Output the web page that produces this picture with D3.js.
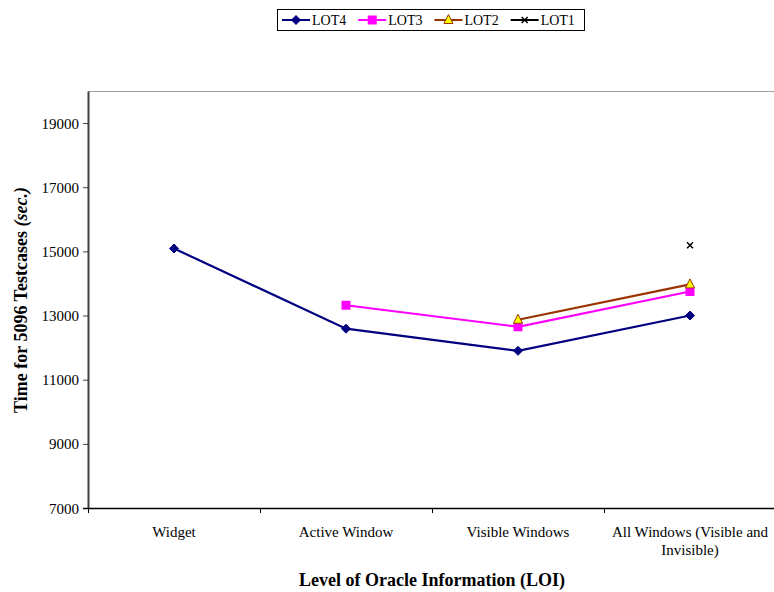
<!DOCTYPE html>
<html>
<head>
<meta charset="utf-8">
<script src="https://cdn.jsdelivr.net/npm/d3@7"></script>
<style>
  html, body { margin: 0; padding: 0; background: #fff; }
  svg { display: block; }
  text { font-family: "Liberation Serif", "Times New Roman", serif; fill: #000; }
</style>
</head>
<body>
<svg id="chart" width="774" height="592"></svg>
<script>
// Levels of oracle information along the x axis
const categories = ["Widget", "Active Window", "Visible Windows", "All Windows (Visible and Invisible)"];
const categoryLines = [["Widget"], ["Active Window"], ["Visible Windows"], ["All Windows (Visible and", "Invisible)"]];

// Time (sec.) per series; null where a series has no measurement
const lot4 = [15090, 12590, 11900, 13000];
const lot3 = [null, 13320, 12650, 13750];
const lot2 = [null, null, 12870, 13970];
const lot1 = [null, null, null, 15190];

const yTicks = [7000, 9000, 11000, 13000, 15000, 17000, 19000];
const seriesNames = ["LOT4", "LOT3", "LOT2", "LOT1"];

const series = [
  { name: seriesNames[0], values: lot4, color: "#000080", marker: "diamond" },
  { name: seriesNames[1], values: lot3, color: "#FF00FF", marker: "square" },
  { name: seriesNames[2], values: lot2, color: "#993300", marker: "triangle" },
  { name: seriesNames[3], values: lot1, color: "#000000", marker: "cross" }
];

const svg = d3.select("#chart");
const plotLeft = 88, plotTop = 91, plotBottom = 508, step = 172;

const x = d3.scaleBand().domain(categories).range([plotLeft, plotLeft + step * categories.length]).paddingInner(0).paddingOuter(0);
const y = d3.scaleLinear().domain([7000, 20000]).range([plotBottom, plotTop]);

// Plot area top border
svg.append("line")
  .attr("x1", plotLeft).attr("x2", 774).attr("y1", plotTop + 0.5).attr("y2", plotTop + 0.5)
  .attr("stroke", "#a0a0a0").attr("stroke-width", 1);

// Y axis
const yAxis = svg.append("g")
  .attr("transform", `translate(${plotLeft},0)`)
  .call(d3.axisLeft(y).tickValues(yTicks).tickSize(5).tickSizeOuter(0).tickPadding(4).tickFormat(d3.format("d")));
yAxis.attr("font-family", null);
yAxis.select(".domain").attr("stroke", "#404040").attr("stroke-width", 2);
yAxis.selectAll(".tick line").attr("stroke", "#404040");
yAxis.selectAll("text").style("font-size", "15px").attr("dy", "0.34em");

// X axis with ticks at category boundaries
const boundaries = categories.map(c => x(c));
const xAxis = svg.append("g").attr("transform", `translate(0,${plotBottom})`);
xAxis.append("line").attr("x1", plotLeft - 5).attr("x2", 774).attr("y1", 0.5).attr("y2", 0.5)
  .attr("stroke", "#000").attr("stroke-width", 1.6);
xAxis.selectAll("line.tick").data(boundaries).join("line")
  .attr("class", "tick")
  .attr("x1", d => Math.round(d) + 0.5).attr("x2", d => Math.round(d) + 0.5)
  .attr("y1", 0).attr("y2", 5).attr("stroke", "#000");

// Category labels
const cx = c => x(c) + x.bandwidth() / 2;
categories.forEach((c, i) => {
  const t = svg.append("text")
    .attr("x", cx(c))
    .attr("y", 537)
    .attr("text-anchor", "middle")
    .style("font-size", "15px");
  categoryLines[i].forEach((ln, j) => {
    t.append("tspan").attr("x", cx(c)).attr("dy", j === 0 ? 0 : 18).text(ln);
  });
});

// Axis titles
svg.append("text")
  .attr("x", 432).attr("y", 586)
  .attr("text-anchor", "middle")
  .style("font-size", "18px").style("font-weight", "bold")
  .text("Level of Oracle Information (LOI)");

const yTitle = svg.append("text")
  .attr("transform", "translate(27,300) rotate(-90)")
  .attr("text-anchor", "middle")
  .style("font-size", "18px").style("font-weight", "bold");
yTitle.append("tspan").text("Time for 5096 Testcases ");
yTitle.append("tspan").style("font-style", "italic").text("(sec.)");

// Marker drawing
function drawMarker(g, type, color, px, py) {
  if (type === "diamond") {
    g.append("path").attr("d", `M${px},${py - 4.5}L${px + 4.5},${py}L${px},${py + 4.5}L${px - 4.5},${py}Z`)
      .attr("fill", color).attr("stroke", color).attr("stroke-width", 1);
  } else if (type === "square") {
    g.append("rect").attr("x", px - 4.5).attr("y", py - 4.5).attr("width", 9).attr("height", 9)
      .attr("fill", color);
  } else if (type === "triangle") {
    g.append("path").attr("d", `M${px},${py - 5.5}L${px + 4.5},${py + 3.5}L${px - 4.5},${py + 3.5}Z`)
      .attr("fill", "#FFFF00").attr("stroke", color).attr("stroke-width", 1);
  } else if (type === "cross") {
    g.append("path").attr("d", `M${px - 3},${py - 3}L${px + 3},${py + 3}M${px - 3},${py + 3}L${px + 3},${py - 3}`)
      .attr("stroke", color).attr("stroke-width", 1.5);
  }
}

const plot = svg.append("g");
const line = d3.line().x(p => cx(p.c)).y(p => y(p.v));
series.forEach(s => {
  const pts = categories.map((c, i) => ({ c, v: s.values[i] })).filter(p => p.v !== null);
  if (pts.length > 1) {
    plot.append("path")
      .datum(pts)
      .attr("fill", "none")
      .attr("stroke", s.color)
      .attr("stroke-width", 2.2)
      .attr("d", line);
  }
});
series.forEach(s => {
  categories.forEach((c, i) => {
    if (s.values[i] !== null) drawMarker(plot, s.marker, s.color, cx(c), y(s.values[i]));
  });
});

// Legend
const legend = svg.append("g");
legend.append("rect")
  .attr("x", 277.5).attr("y", 9.5).attr("width", 307).attr("height", 21)
  .attr("fill", "#fff").attr("stroke", "#000").attr("stroke-width", 1);
let lx = 282;
series.forEach(s => {
  const ly = 20;
  legend.append("line").attr("x1", lx).attr("x2", lx + 28).attr("y1", ly).attr("y2", ly)
    .attr("stroke", s.color).attr("stroke-width", 2);
  drawMarker(legend, s.marker, s.color, lx + 14, ly);
  const t = legend.append("text").attr("x", lx + 30).attr("y", ly + 5)
    .style("font-size", "14px").text(s.name);
  lx += 30 + t.node().getComputedTextLength() + 12;
});
</script>
</body>
</html>
